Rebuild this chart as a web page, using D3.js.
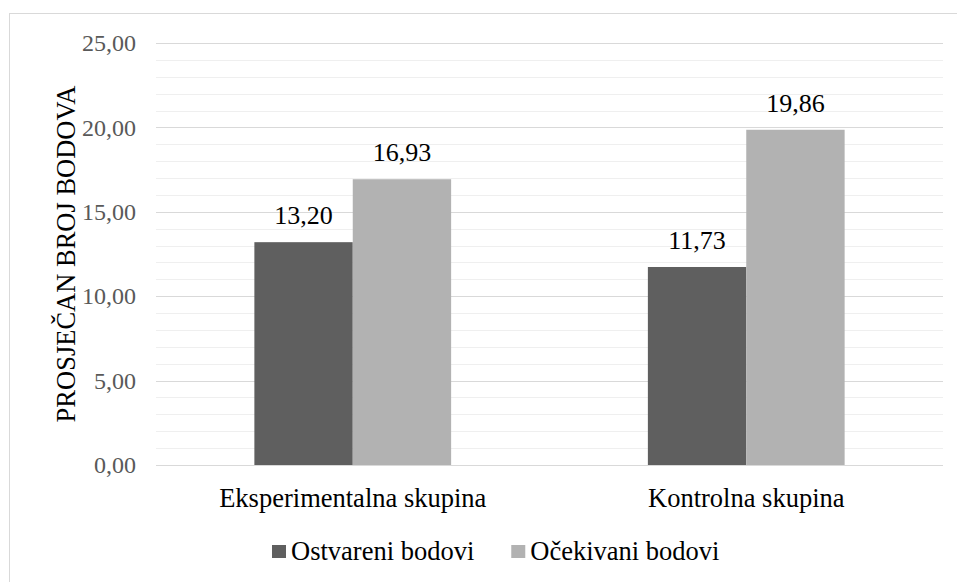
<!DOCTYPE html>
<html><head><meta charset="utf-8">
<script src="https://cdn.jsdelivr.net/npm/d3@7"></script>
<style>body{margin:0;background:#fff}</style>
</head><body>
<svg id="c" width="957" height="582"></svg>
<script>
const categories = ["Eksperimentalna skupina", "Kontrolna skupina"];
const seriesNames = ["Ostvareni bodovi", "Očekivani bodovi"];
const ostvareni = [13.20, 11.73];
const ocekivani = [16.93, 19.86];
const yTicks = [0, 5, 10, 15, 20, 25];
const colors = ["#5f5f5f", "#b2b2b2"];
const series = [ostvareni, ocekivani];
const FONT = '"Liberation Serif"';

const svg = d3.select("#c");
svg.append("rect").attr("x", 9.5).attr("y", 13.5).attr("width", 960).attr("height", 600)
  .attr("fill", "#fff").attr("stroke", "#d9d9d9").attr("stroke-width", 1);

const L = 156, R = 943, T = 43, B = 465;
const x = d3.scaleBand().domain(categories).range([L, R]).paddingInner(0.5).paddingOuter(0.25);
const xs = d3.scaleBand().domain([0, 1]).range([0, x.bandwidth()]);
const y = d3.scaleLinear().domain([0, 25]).range([B, T]);

svg.append("g").selectAll("line").data(d3.range(0, 26, 1).filter(v => v % 5 !== 0)).join("line")
  .attr("x1", L).attr("x2", R).attr("y1", d => Math.round(y(d)) + 0.5).attr("y2", d => Math.round(y(d)) + 0.5)
  .attr("stroke", "#efefef").attr("stroke-width", 1);
svg.append("g").selectAll("line").data(yTicks).join("line")
  .attr("x1", L).attr("x2", R).attr("y1", d => Math.round(y(d)) + 0.5).attr("y2", d => Math.round(y(d)) + 0.5)
  .attr("stroke", "#d9d9d9").attr("stroke-width", 1);

const yAxis = d3.axisLeft(y).tickValues(yTicks).tickSize(0).tickPadding(20)
  .tickFormat(d => d3.format(".2f")(d).replace(".", ","));
const ga = svg.append("g").attr("transform", `translate(${L},0)`).call(yAxis);
ga.select(".domain").remove();
ga.attr("font-family", FONT).attr("font-size", 24);
ga.selectAll("text").style("font-family", FONT).attr("fill", "#595959");

categories.forEach((c, i) => {
  series.forEach((s, j) => {
    svg.append("rect").attr("x", x(c) + xs(j)).attr("width", xs.bandwidth())
      .attr("y", y(s[i])).attr("height", y(0) - y(s[i])).attr("fill", colors[j]);
    svg.append("text").attr("x", x(c) + xs(j) + xs.bandwidth() / 2).attr("y", y(s[i]) - 18)
      .attr("text-anchor", "middle").style("font-family", FONT).attr("font-size", 26).attr("fill", "#000")
      .text(d3.format(".2f")(s[i]).replace(".", ","));
  });
});

const xAxis = d3.axisBottom(x).tickSize(0).tickPadding(23);
const gx = svg.append("g").attr("transform", `translate(0,${B})`).call(xAxis);
gx.select(".domain").remove();
gx.attr("font-family", FONT).attr("font-size", 26.5);
gx.selectAll("text").style("font-family", FONT).attr("fill", "#000");

svg.append("text").attr("transform", `translate(75,${(T + B) / 2}) rotate(-90)`)
  .attr("text-anchor", "middle").style("font-family", FONT).attr("font-size", 26.5).attr("fill", "#000")
  .text("PROSJEČAN BROJ BODOVA");

const leg = svg.append("g").attr("transform", "translate(272,560)");
let lx = 0;
seriesNames.forEach((n, j) => {
  const g = leg.append("g").attr("transform", `translate(${lx},0)`);
  g.append("rect").attr("x", 0).attr("y", -15).attr("width", 14).attr("height", 13).attr("fill", colors[j]);
  const t = g.append("text").attr("x", 19).attr("y", 0).style("font-family", FONT).attr("font-size", 26.5)
    .attr("fill", "#000").text(n);
  lx += 19 + t.node().getComputedTextLength() + 37;
});
</script>
</body></html>
